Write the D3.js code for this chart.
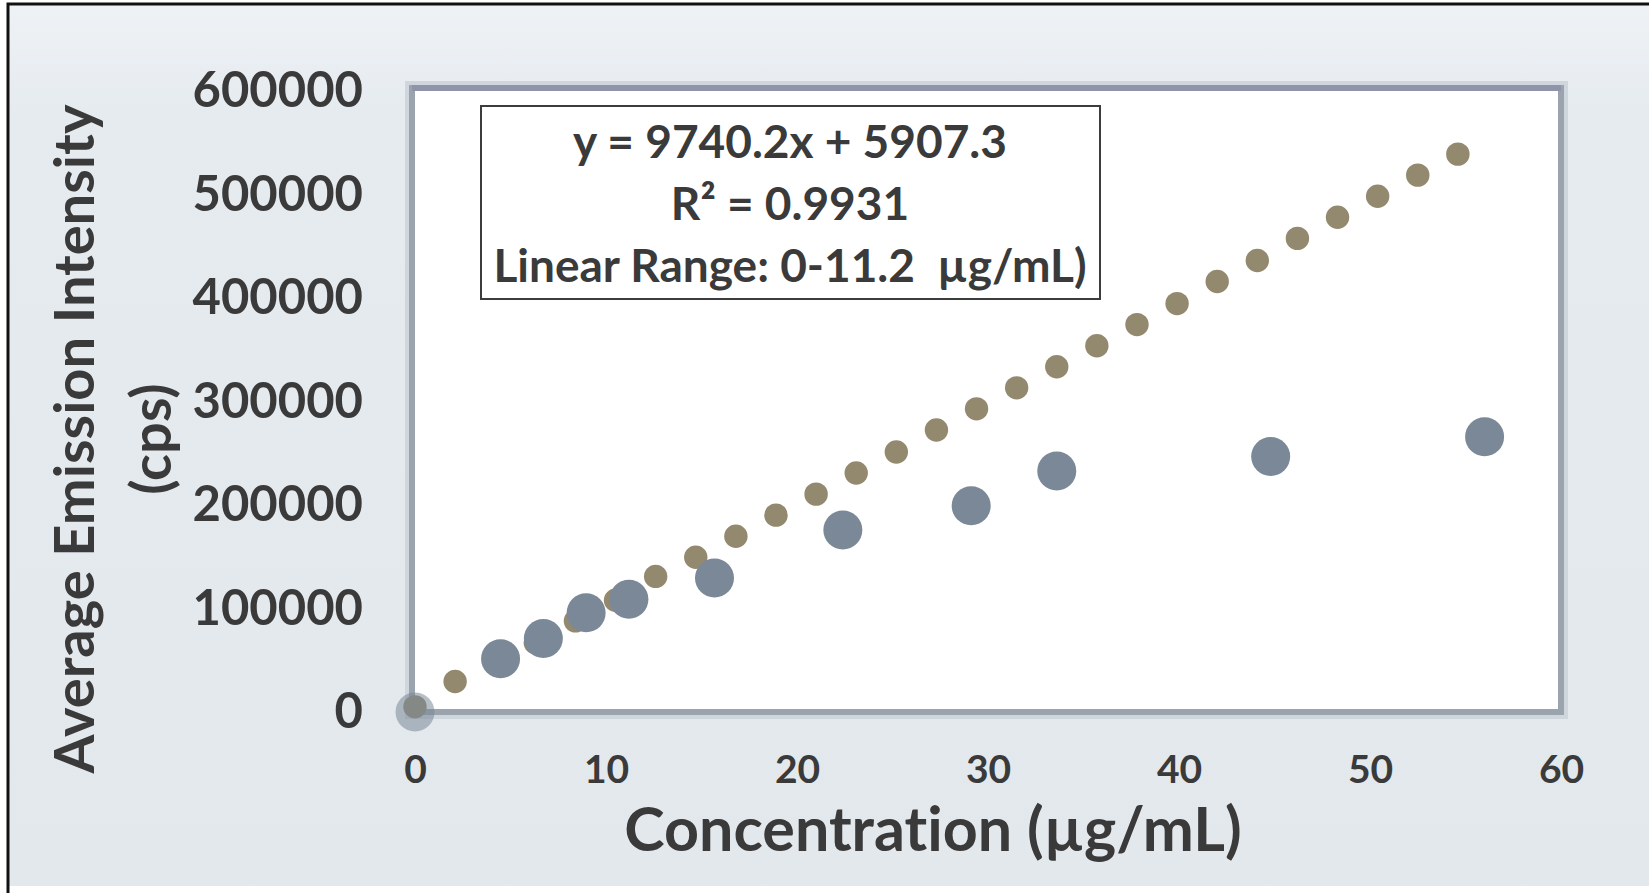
<!DOCTYPE html>
<html>
<head>
<meta charset="utf-8">
<script src="https://d3js.org/d3.v7.min.js"></script>
<style>
    body { margin: 0; background: #ffffff; }
    svg { display: block; }
    .tick text { font-family: Lato, "Open Sans", sans-serif; font-weight: bold; fill: #3a3a3a; }
    .ttl { font-family: Lato, "Open Sans", sans-serif; font-weight: bold; fill: #3a3a3a;
           font-variant-ligatures: none; white-space: pre; }
</style>
</head>
<body>
<script>

    // linear series (small brown markers)
    var linConc = [0, 2.1, 4.2, 6.3, 8.4, 10.5, 12.6, 14.7, 16.8, 18.9, 21.0, 23.1, 25.2, 27.3,
        29.4, 31.5, 33.6, 35.7, 37.8, 39.9, 42.0, 44.1, 46.2, 48.3, 50.4, 52.5, 54.6];
    var linInt = [5000, 29500, 47000, 67000, 88000, 108000, 131000, 149500, 169800, 190200, 210500,
        230900, 251200, 272500, 292900, 313200, 333600, 353900, 374300, 394600, 415900, 436300,
        457600, 478000, 498300, 518700, 539000];

    // measured series (large blue markers)
    var satConc = [0, 4.48, 6.72, 8.96, 11.2, 15.68, 22.4, 29.12, 33.6, 44.8, 56];
    var satInt = [0, 51500, 71000, 95800, 109000, 129500, 175900, 199300, 232900, 246800, 266000];

    var xTicks = [0, 10, 20, 30, 40, 50, 60];
    var yTicks = [0, 100000, 200000, 300000, 400000, 500000, 600000];

    var boxLines = ["y = 9740.2x + 5907.3", "R\u00b2 = 0.9931", "Linear Range: 0-11.2  \u00b5g/mL)"];

    var W = 1649, H = 893;
    var margin = { top: 91, right: 88, bottom: 181, left: 415 };
    var width = W - margin.left - margin.right,
        height = H - margin.top - margin.bottom;

    var svg = d3.select("body").append("svg")
        .attr("width", W)
        .attr("height", H);

    var defs = svg.append("defs");
    var grad = defs.append("linearGradient").attr("id", "panelGrad")
        .attr("x1", 0).attr("y1", 0).attr("x2", 0).attr("y2", 1);
    grad.append("stop").attr("offset", "0%").attr("stop-color", "#eef2f5");
    grad.append("stop").attr("offset", "12%").attr("stop-color", "#e6ebf0");
    grad.append("stop").attr("offset", "100%").attr("stop-color", "#e3e8ed");

    // outer picture panel with black edge on top / left
    svg.append("rect")
        .attr("x", 8).attr("y", 4)
        .attr("width", W - 8).attr("height", 882)
        .style("fill", "url(#panelGrad)");
    svg.append("path")
        .attr("d", "M8,893 L8,4 L" + W + ",4")
        .style("fill", "none")
        .style("stroke", "#111")
        .style("stroke-width", 3);

    var g = svg.append("g")
        .attr("transform", "translate(" + margin.left + "," + margin.top + ")");

    var x = d3.scaleLinear().domain([0, 60]).range([0, width]);
    var y = d3.scaleLinear().domain([0, 600000]).range([height, 0]);

    // plot area with its grey frame
    g.append("rect")
        .attr("x", -3).attr("y", -3)
        .attr("width", width + 3).attr("height", height + 3)
        .style("fill", "none")
        .style("stroke", "#cfd6dd")
        .style("stroke-width", 14);
    g.append("rect")
        .attr("x", -3).attr("y", -3)
        .attr("width", width + 3).attr("height", height + 3)
        .style("fill", "#ffffff")
        .style("stroke", "#9ba3ad")
        .style("stroke-width", 6);
    g.append("line")
        .attr("x1", -3).attr("x2", width)
        .attr("y1", -3).attr("y2", -3)
        .style("stroke", "#8f94a8")
        .style("stroke-width", 6);

    // axes
    var xAxis = d3.axisBottom(x).tickValues(xTicks).tickSize(0).tickPadding(43);
    var yAxis = d3.axisLeft(y).tickValues(yTicks).tickSize(0).tickPadding(52)
        .tickFormat(d3.format("d"));

    g.append("g")
        .attr("class", "x axis")
        .attr("transform", "translate(0," + height + ")")
        .call(xAxis)
        .call(function (s) { s.select(".domain").remove(); })
        .selectAll("text")
        .style("font-size", "39px");

    g.append("g")
        .attr("class", "y axis")
        .call(yAxis)
        .call(function (s) { s.select(".domain").remove(); })
        .selectAll("text")
        .style("font-size", "49px");

    // markers
    g.selectAll(".lin")
        .data(linConc)
        .enter().append("circle")
        .attr("class", "lin")
        .attr("cx", function (d) { return x(d); })
        .attr("cy", function (d, i) { return y(linInt[i]); })
        .attr("r", 11.7)
        .style("fill", "#93896f");

    g.selectAll(".sat")
        .data(satConc)
        .enter().append("circle")
        .attr("class", "sat")
        .attr("cx", function (d) { return x(d); })
        .attr("cy", function (d, i) { return y(satInt[i]); })
        .attr("r", 19.5)
        .style("fill", "#7a8898")
        .style("fill-opacity", function (d) { return d === 0 ? 0.55 : 1; });

    // equation box
    var box = svg.append("g");
    box.append("rect")
        .attr("x", 481).attr("y", 106)
        .attr("width", 619).attr("height", 193)
        .style("fill", "#ffffff")
        .style("stroke", "#3c3c3c")
        .style("stroke-width", 2);
    box.selectAll("text")
        .data(boxLines)
        .enter().append("text")
        .attr("class", "ttl")
        .attr("x", 790)
        .attr("y", function (d, i) { return 158 + i * 62; })
        .attr("text-anchor", "middle")
        .style("font-size", "46px")
        .text(function (d) { return d; });

    // axis titles
    svg.append("text")
        .attr("class", "ttl")
        .attr("x", 933).attr("y", 851)
        .attr("text-anchor", "middle")
        .style("font-size", "61px")
        .text("Concentration (\u00b5g/mL)");

    var yt = svg.append("text")
        .attr("class", "ttl")
        .attr("transform", "rotate(-90)")
        .attr("text-anchor", "middle")
        .style("font-size", "56px");
    yt.append("tspan").attr("x", -439).attr("y", 94).text("Average Emission Intensity");
    yt.append("tspan").attr("x", -439).attr("y", 171).text("(cps)");

</script>
</body>
</html>
